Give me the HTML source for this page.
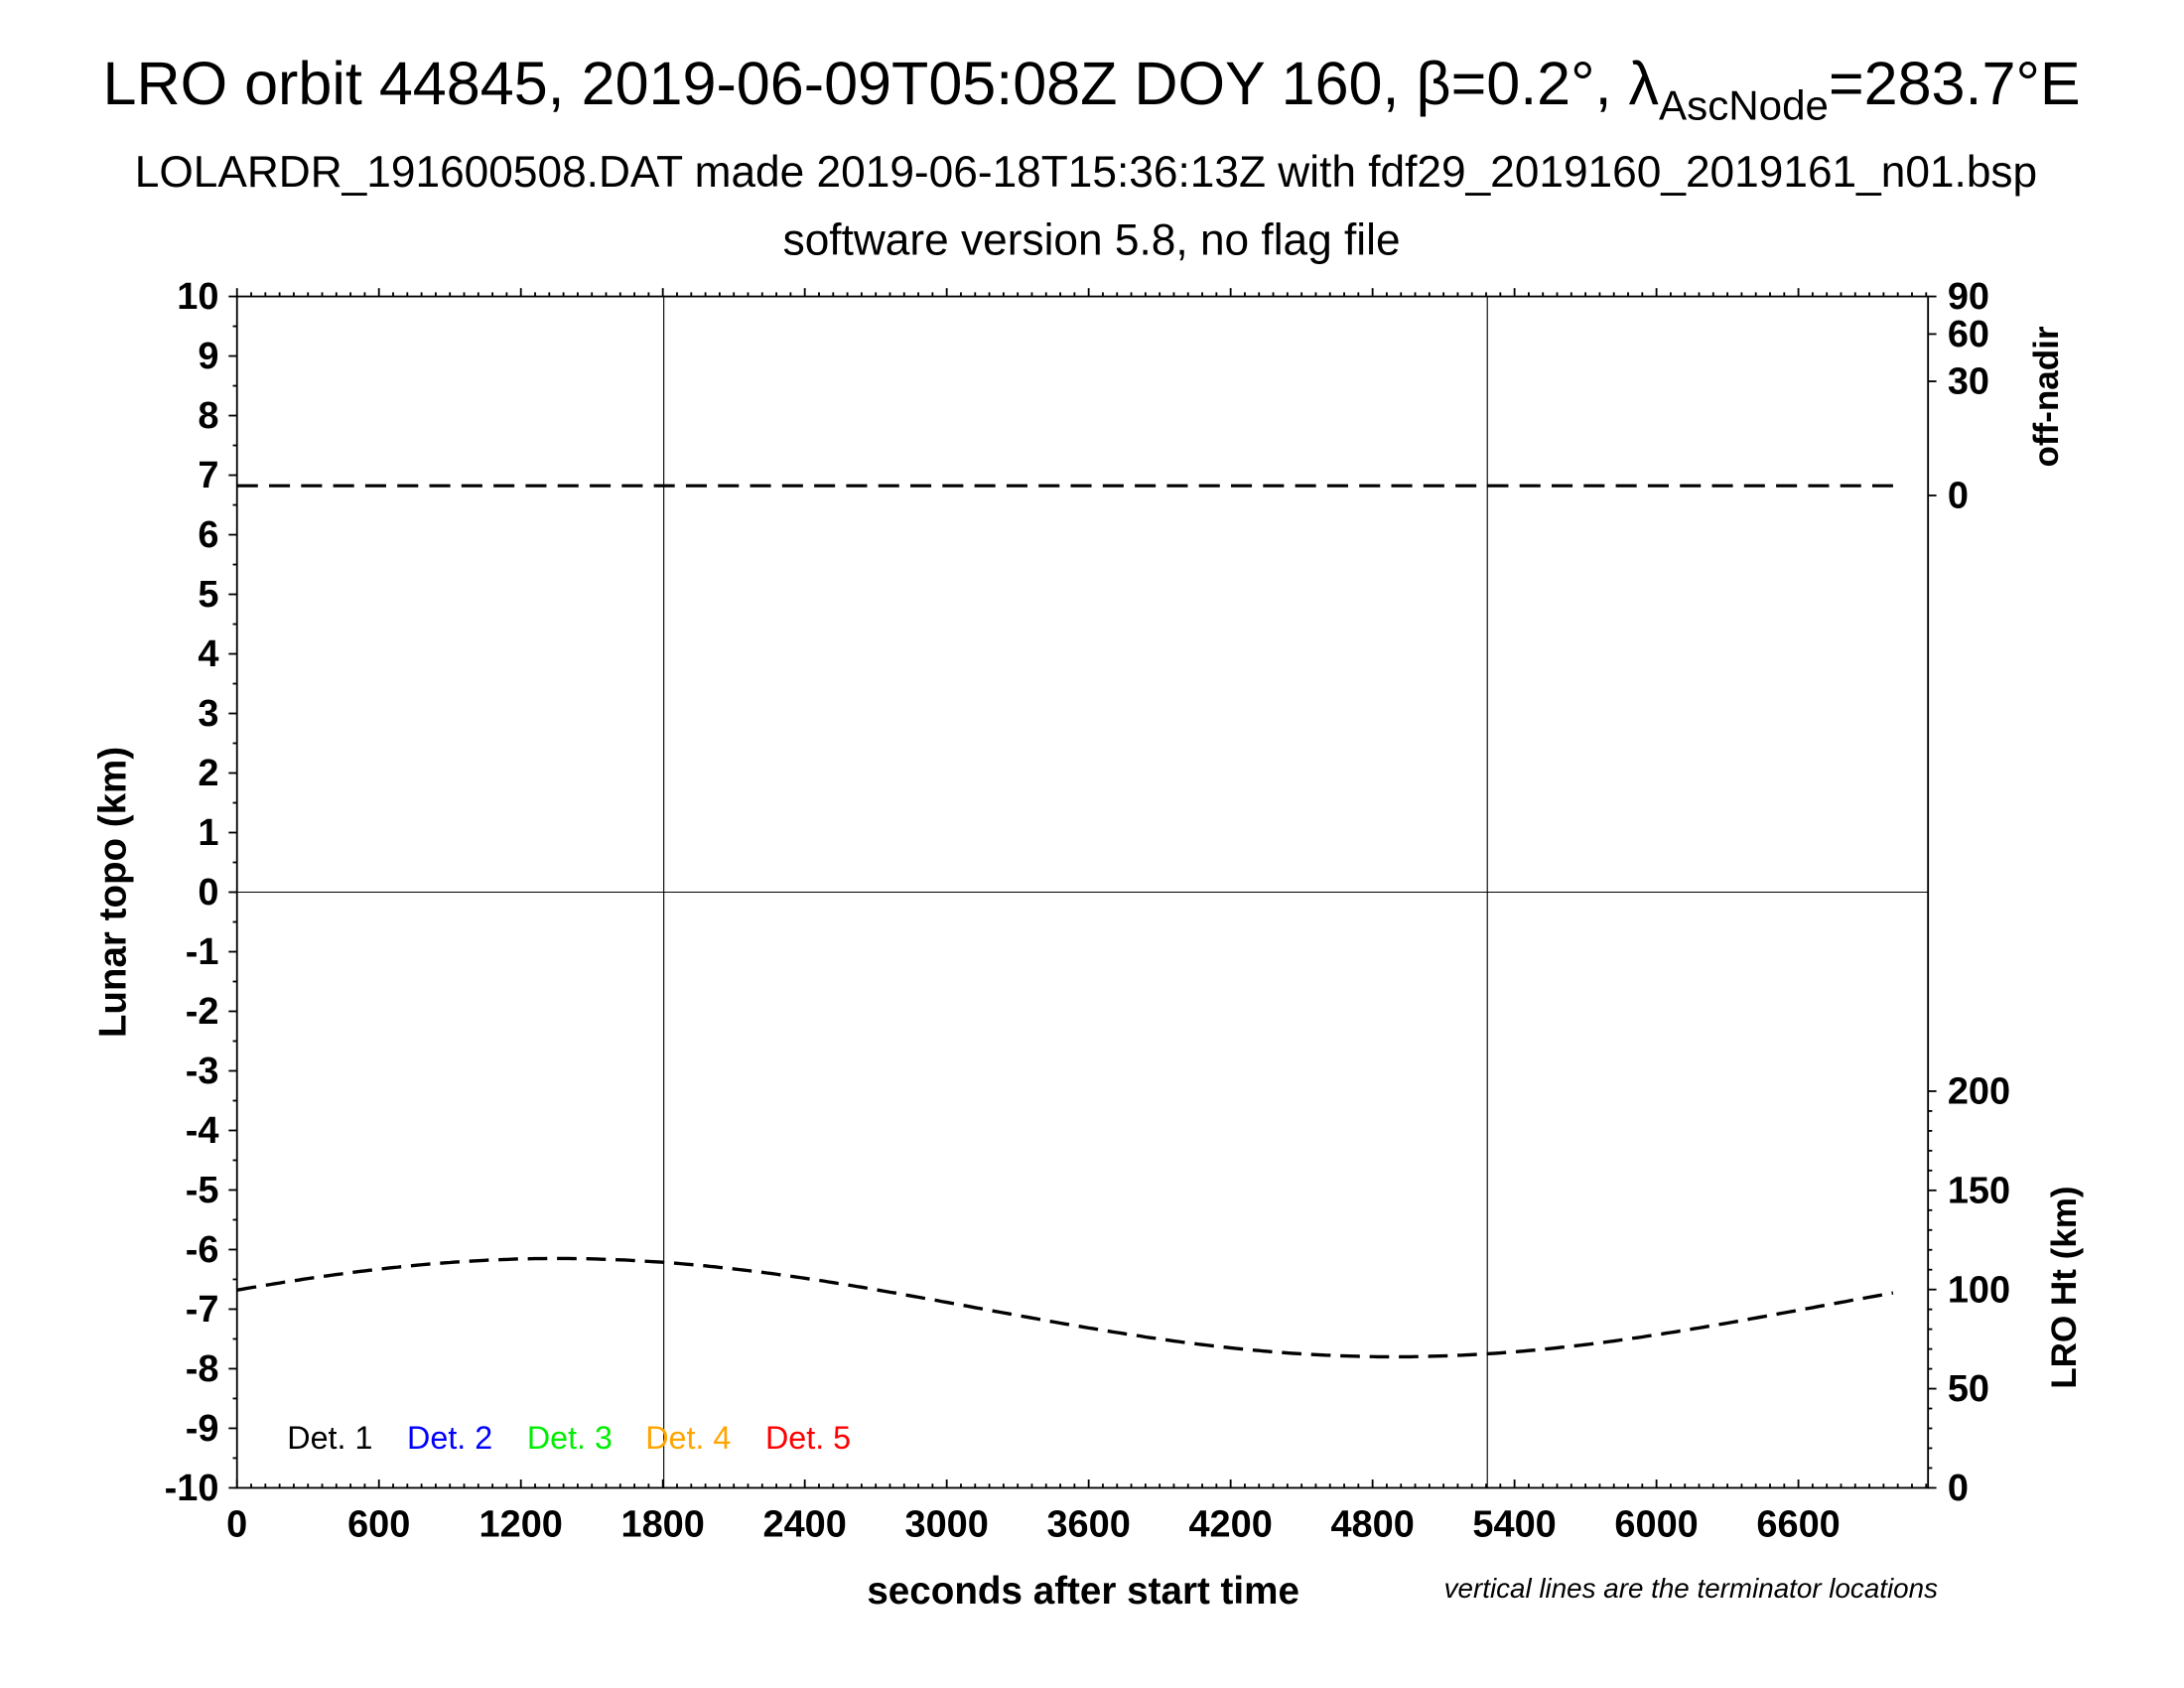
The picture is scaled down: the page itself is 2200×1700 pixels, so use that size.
<!DOCTYPE html>
<html><head><meta charset="utf-8"><style>
html,body{margin:0;padding:0;background:#fff}
svg{display:block}
text{font-family:"Liberation Sans",sans-serif;fill:#000}
.b{font-weight:bold}
</style></head><body>
<svg id="s" width="2200" height="1700" viewBox="0 0 1566.6 1212.8" preserveAspectRatio="none" xmlns="http://www.w3.org/2000/svg">
<text x="783" y="75" font-size="43.5" text-anchor="middle">LRO orbit 44845, 2019-06-09T05:08Z DOY 160, β=0.2°, λ<tspan font-size="30" dy="11">AscNode</tspan><tspan dy="-11">=283.7°E</tspan></text>
<text x="779" y="134" font-size="31.5" text-anchor="middle">LOLARDR_191600508.DAT made 2019-06-18T15:36:13Z with fdf29_2019160_2019161_n01.bsp</text>
<text x="783" y="183" font-size="31.5" text-anchor="middle">software version 5.8, no flag file</text>
<g id="ax" stroke="#000" stroke-width="1.3" fill="none"></g>
<g id="lbl"></g>
<text class="b" x="777" y="1152" font-size="27.5" text-anchor="middle">seconds after start time</text>
<text x="1390" y="1148" font-size="19.8" font-style="italic" text-anchor="end">vertical lines are the terminator locations</text>
<text class="b" font-size="27.5" text-anchor="middle" transform="translate(90,641) rotate(-90)">Lunar topo (km)</text>
<text class="b" font-size="25" text-anchor="middle" transform="translate(1476,285) rotate(-90)">off-nadir</text>
<text class="b" font-size="25" text-anchor="middle" transform="translate(1489,925) rotate(-90)">LRO Ht (km)</text>
<g font-size="23">
<text x="206" y="1041">Det. 1</text>
<text x="292" y="1041" style="fill:#0000ff">Det. 2</text>
<text x="378" y="1041" style="fill:#00ee00">Det. 3</text>
<text x="463" y="1041" style="fill:#ffa500">Det. 4</text>
<text x="549" y="1041" style="fill:#ff0000">Det. 5</text>
</g>
</svg>
<script>
var L=170,R=1383,T=213,B=1069,px=0.1697;
var Y=function(v){return T+(10-v)*(B-T)/20};
var X=function(t){return L+t*px};
var ax=document.getElementById('ax'),lb=document.getElementById('lbl');
var h='';
h+='<rect x="'+L+'" y="'+T+'" width="'+(R-L)+'" height="'+(B-T)+'"/>';
h+='<line x1="'+L+'" y1="'+Y(0)+'" x2="'+R+'" y2="'+Y(0)+'" stroke-width="0.8"/>';
[1804,5285].forEach(function(t){h+='<line x1="'+X(t)+'" y1="'+T+'" x2="'+X(t)+'" y2="'+B+'" stroke-width="0.8"/>';});
for(var t=0;t<=7140;t+=60){var maj=t%600==0;var l=maj?6:3;
h+='<line x1="'+X(t)+'" y1="'+B+'" x2="'+X(t)+'" y2="'+(B-l)+'"/>';
h+='<line x1="'+X(t)+'" y1="'+T+'" x2="'+X(t)+'" y2="'+(T-l)+'"/>';}
for(var v=-10;v<=10;v+=0.5){var maj=v%1==0;var l=maj?6:3;
h+='<line x1="'+L+'" y1="'+Y(v)+'" x2="'+(L-l)+'" y2="'+Y(v)+'"/>';}
var hy=function(k){return B-k*(B-784)/200};
for(var k=0;k<=200;k+=10){var maj=k%50==0;var l=maj?6:3;
h+='<line x1="'+R+'" y1="'+hy(k)+'" x2="'+(R+l)+'" y2="'+hy(k)+'"/>';}
[[0,356],[30,274],[60,240],[90,213]].forEach(function(a){h+='<line x1="'+R+'" y1="'+a[1]+'" x2="'+(R+6)+'" y2="'+a[1]+'"/>';});
h+='<line x1="'+X(0)+'" y1="349" x2="'+X(7000)+'" y2="349" stroke-width="2.2" stroke-dasharray="15,8"/>';
var d='';for(var t=0;t<=7000;t+=20){var v=-6.975+0.825*Math.cos(2*Math.PI*(t-1355)/7070);d+=(t?'L':'M')+X(t).toFixed(1)+','+Y(v).toFixed(1);}
h+='<path d="'+d+'" stroke-width="2.4" stroke-dasharray="14,7"/>';
ax.innerHTML=h;
var g='';
for(var v=-10;v<=10;v++)g+='<text class="b" x="157" y="'+(Y(v)+9)+'" font-size="27" text-anchor="end">'+v+'</text>';
for(var t=0;t<=6600;t+=600)g+='<text class="b" x="'+X(t)+'" y="'+(B+35)+'" font-size="27" text-anchor="middle">'+t+'</text>';
[0,50,100,150,200].forEach(function(a){g+='<text class="b" x="1397" y="'+(hy(a)+9)+'" font-size="27">'+a+'</text>';});
[[0,356,'0'],[30,274,'30'],[60,240,'60'],[90,213,'90']].forEach(function(a){g+='<text class="b" x="1397" y="'+(a[1]+9)+'" font-size="27">'+a[2]+'</text>';});
lb.innerHTML=g;
</script>
</body></html>
